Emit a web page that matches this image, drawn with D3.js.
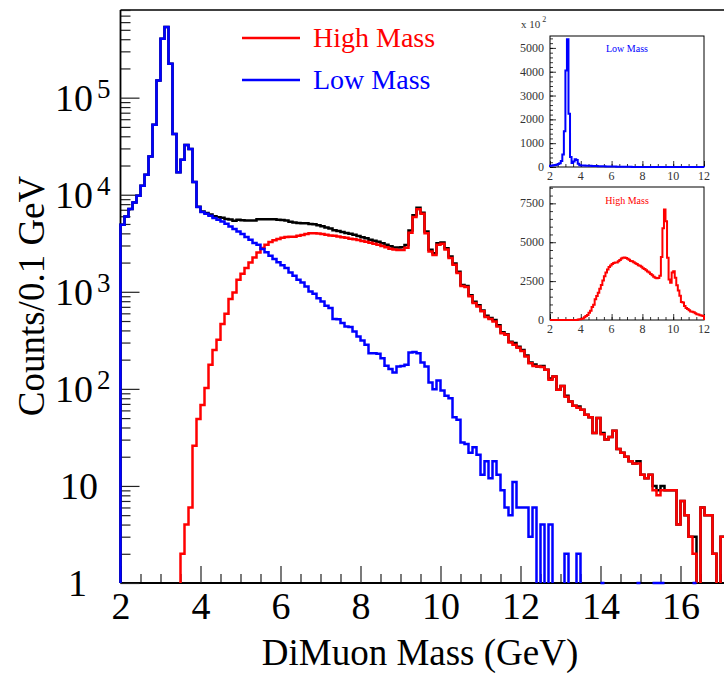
<!DOCTYPE html>
<html><head><meta charset="utf-8">
<script src="https://cdn.jsdelivr.net/npm/d3@7"></script>
<style>
body{margin:0;background:#fff}
svg{display:block}
text{font-family:"Liberation Serif","Times New Roman",serif}
</style>
</head><body>
<svg id="c" width="724" height="673"></svg>
<script>
// ---- data: counts per 0.1 GeV bin, bins start at 2.0 GeV ----
const binStart = 2.0;
const binWidth = 0.1;
const lowMass = [
  4900, 5970, 7110, 8340, 9770, 12400, 16100, 24800, 52700, 150000,
  405000, 536000, 224000, 42300, 17000, 22900, 32500, 29500, 13500, 7470,
  6630, 6370, 6080, 5760, 5530, 5310, 5020, 4710, 4425, 4185,
  3935, 3664, 3435, 3175, 3050, 2755, 2550, 2350, 2180, 2020,
  1880, 1755, 1581, 1462, 1330, 1247, 1135, 1008, 953, 860,
  794, 717, 680, 523, 520, 476, 440, 435, 390, 346,
  315, 284, 233, 233, 230, 207, 173, 160, 147, 170,
  172, 177, 237, 240, 233, 187, 170, 116, 99, 122,
  96, 85, 80, 51, 48, 28, 27, 22, 25, 21,
  13, 18, 12, 18, 13, 9, 6, 5, 11, 6,
  6, 6, 3, 6, 0, 4, 0, 4, 0, 0,
  0, 2, 0, 0, 2, 0, 0, 0, 0, 0,
  1, 0, 0, 0, 0, 0, 0, 0, 0, 1,
  0, 0, 0, 1, 1, 1, 0, 0, 0, 0,
  0, 0, 0, 1, 0, 0, 0, 0, 0, 0,
  0, 0
];
const highMass = [
  0, 0, 0, 0, 0, 0, 0, 0, 0, 0,
  0, 0, 0, 0, 0, 2, 4, 6, 26, 49,
  68, 102, 177, 252, 320, 465, 593, 841, 984, 1330,
  1535, 1755, 2005, 2258, 2543, 2820, 3052, 3250, 3400, 3500,
  3600, 3660, 3700, 3700, 3780, 3850, 3950, 4000, 4020, 3980,
  3930, 3880, 3800, 3780, 3720, 3650, 3600, 3520, 3480, 3420,
  3330, 3280, 3200, 3120, 3050, 2960, 2880, 2780, 2720, 2690,
  2700, 2850, 4050, 5900, 7100, 6350, 4000, 2600, 2400, 3050,
  3130, 2720, 2230, 1900, 1560, 1150, 1120, 900, 765, 705,
  630, 550, 525, 495, 440, 375, 360, 300, 285, 265,
  245, 215, 184, 172, 170, 168, 157, 124, 134, 98,
  107, 83, 74, 67, 64, 61, 54, 51, 35, 50,
  34, 30, 32, 37, 24, 22, 20, 18, 17, 17,
  13, 12, 13, 9, 8, 9, 9, 9, 9, 4,
  7, 5, 3, 2, 0, 6, 5, 5, 2, 0,
  3, 3
];
const totalMass = lowMass.map((v, i) => v + highMass[i]);
const xTickValues = [2, 4, 6, 8, 10, 12, 14, 16];
const yDecades = [0, 1, 2, 3, 4, 5];
const legendLabels = ["High Mass", "Low Mass"];
const insetXTicks = [2, 4, 6, 8, 10, 12];
const insetLowTicks = [0, 1000, 2000, 3000, 4000, 5000];
const insetHighTicks = [0, 2500, 5000, 7500];

const edges = d3.range(lowMass.length + 1).map(i => +(binStart + i * binWidth).toFixed(2));

const svg = d3.select("#c");
const RED = "#ff0000", BLUE = "#0000ff";

// ---- main plot ----
const x = d3.scaleLinear().domain([2, 17.2]).range([120.5, 728.5]);
const y = d3.scaleLog().domain([1, 8e5]).range([583, 10]);
const yB = y(1);

svg.append("defs").append("clipPath").attr("id", "mainclip")
  .append("rect").attr("x", 119).attr("y", 10).attr("width", 610).attr("height", 576);

svg.append("line").attr("x1", 120.5).attr("x2", 724).attr("y1", 10).attr("y2", 10)
  .attr("stroke", "#000").attr("stroke-width", 1.5);

// x axis ticks
const minorX = d3.range(2, 17.01, 0.5).filter(v => Math.abs(v % 2) > 1e-6);
const gx = svg.append("g").attr("transform", `translate(0,${yB})`);
gx.call(d3.axisBottom(x).tickValues(minorX).tickSize(-9).tickSizeOuter(0).tickFormat(""));
gx.call(g => g.select(".domain").remove());
const gx2 = svg.append("g").attr("transform", `translate(0,${yB})`);
gx2.call(d3.axisBottom(x).tickValues(xTickValues).tickSize(-17).tickSizeOuter(0).tickPadding(9).tickFormat(d3.format("d")));
gx2.select(".domain").attr("d", `M120.5,0H724`).attr("stroke-width", 1.8);
gx2.selectAll("text").attr("font-size", 38).attr("fill", "#000");
svg.selectAll(".tick line").attr("stroke", "#222").attr("stroke-width", 1.2);

// y axis ticks
const yMinor = [];
for (let n = 0; n <= 5; n++) for (let k = 2; k <= 9; k++) { const v = k * Math.pow(10, n); if (v <= 8e5) yMinor.push(v); }
const gy = svg.append("g").attr("transform", "translate(120.5,0)");
gy.call(d3.axisLeft(y).tickValues(yMinor).tickSize(-10).tickSizeOuter(0).tickFormat(""));
gy.select(".domain").remove();
const gy2 = svg.append("g").attr("transform", "translate(120.5,0)");
gy2.call(d3.axisLeft(y).tickValues(yDecades.map(n => Math.pow(10, n))).tickSize(-19).tickSizeOuter(0).tickFormat(""));
gy2.select(".domain").attr("d", `M0,${yB}V10`).attr("stroke-width", 1.8);
svg.selectAll(".tick line").attr("stroke", "#222").attr("stroke-width", 1.2);

// y tick labels
yDecades.forEach(n => {
  const yy = y(Math.pow(10, n));
  if (n === 0) {
    svg.append("text").attr("x", 87).attr("y", yy + 13).attr("text-anchor", "end")
      .attr("font-size", 38).text("1");
  } else if (n === 1) {
    svg.append("text").attr("x", 98).attr("y", yy + 13).attr("text-anchor", "end")
      .attr("font-size", 38).text("10");
  } else {
    svg.append("text").attr("x", 93).attr("y", yy + 13).attr("text-anchor", "end")
      .attr("font-size", 38).text("10");
    svg.append("text").attr("x", 97).attr("y", yy).attr("font-size", 27).text(String(n));
  }
});

// axis titles
svg.append("text").attr("x", 420).attr("y", 665).attr("text-anchor", "middle")
  .attr("font-size", 37).text("DiMuon Mass (GeV)");
svg.append("text").attr("transform", "translate(44,296) rotate(-90)").attr("text-anchor", "middle")
  .attr("font-size", 37).text("Counts/0.1 GeV");

// histogram path builder for log scale (zero bins left empty)
function logStep(vals) {
  let d = "", pen = false, prevY = yB;
  vals.forEach((v, i) => {
    const x0 = x(edges[i]), x1 = x(edges[i + 1]);
    const yi = v > 0 ? y(v) : yB;
    if (!pen) { d += `M${x0},${prevY}`; pen = true; }
    d += `L${x0},${yi}`;
    if (v > 0) d += `L${x1},${yi}`; else pen = false;
    prevY = yi;
  });
  if (pen) d += `L${x(edges[vals.length])},${yB}`;
  return d;
}
const hg = svg.append("g").attr("clip-path", "url(#mainclip)");
hg.append("path").attr("d", logStep(totalMass)).attr("fill", "none").attr("stroke", "#000").attr("stroke-width", 2.5);
hg.append("path").attr("d", logStep(highMass)).attr("fill", "none").attr("stroke", RED).attr("stroke-width", 2.5);
hg.append("path").attr("d", logStep(lowMass)).attr("fill", "none").attr("stroke", BLUE).attr("stroke-width", 2.5);

// legend
[[RED, 38, 47], [BLUE, 80, 89]].forEach(([c, ly, ty], i) => {
  svg.append("line").attr("x1", 242).attr("x2", 300).attr("y1", ly).attr("y2", ly)
    .attr("stroke", c).attr("stroke-width", 2.5);
  svg.append("text").attr("x", 313).attr("y", ty).attr("font-size", 28).attr("fill", c).text(legendLabels[i]);
});

// ---- insets ----
function inset(top, bottom, yMax, vals, scaleDiv, ticks, color, label, labelY, xLabY) {
  const ix = d3.scaleLinear().domain([2, 12]).range([550, 704]);
  const iy = d3.scaleLinear().domain([0, yMax]).range([bottom, top]);
  const g = svg.append("g");
  g.append("rect").attr("x", 550).attr("y", top).attr("width", 154).attr("height", bottom - top)
    .attr("fill", "#fff").attr("stroke", "#000").attr("stroke-width", 1);
  const minor = d3.range(2, 12.01, 0.5);
  g.append("g").attr("transform", `translate(0,${bottom})`)
    .call(d3.axisBottom(ix).tickValues(minor).tickSize(-3).tickSizeOuter(0).tickFormat(""))
    .call(s => s.select(".domain").remove());
  g.append("g").attr("transform", `translate(0,${bottom})`)
    .call(d3.axisBottom(ix).tickValues(insetXTicks).tickSize(-6).tickSizeOuter(0).tickFormat(""))
    .call(s => s.select(".domain").remove());
  insetXTicks.forEach(t => g.append("text").attr("x", ix(t)).attr("y", xLabY).attr("text-anchor", "middle")
    .attr("font-size", 12).attr("fill", "#333").text(t));
  const step = ticks[1] - ticks[0];
  const yminor = d3.range(0, yMax, step / 5);
  g.append("g").attr("transform", "translate(550,0)")
    .call(d3.axisLeft(iy).tickValues(yminor).tickSize(-3).tickSizeOuter(0).tickFormat(""))
    .call(s => s.select(".domain").remove());
  g.append("g").attr("transform", "translate(550,0)")
    .call(d3.axisLeft(iy).tickValues(ticks).tickSize(-6).tickSizeOuter(0).tickFormat(""))
    .call(s => s.select(".domain").remove());
  ticks.forEach(t => g.append("text").attr("x", 544).attr("y", iy(t) + 4).attr("text-anchor", "end")
    .attr("font-size", 12).attr("fill", "#333").text(t));
  g.selectAll(".tick line").attr("stroke", "#000").attr("stroke-width", 0.8);
  let d = `M${ix(2)},${iy(0)}`;
  vals.forEach((v, i) => {
    if (edges[i] >= 12 - 1e-9) return;
    const yy = iy(v / scaleDiv);
    d += `L${ix(edges[i])},${yy}L${ix(edges[i + 1])},${yy}`;
  });
  d += `L${ix(12)},${iy(0)}`;
  g.append("path").attr("d", d).attr("fill", "none").attr("stroke", color).attr("stroke-width", 2);
  g.append("text").attr("x", 627).attr("y", labelY).attr("text-anchor", "middle")
    .attr("font-size", 10).attr("fill", color).text(label);
}
inset(36, 167, 5500, lowMass, 100, insetLowTicks, BLUE, "Low Mass", 52, 180);
inset(187, 320, 8550, highMass, 1, insetHighTicks, RED, "High Mass", 204, 333);
const ml = svg.append("text").attr("x", 521).attr("y", 28).attr("font-size", 11).attr("fill", "#333");
ml.append("tspan").text("x 10");
ml.append("tspan").attr("dy", -6).attr("dx", 2).attr("font-size", 8).text("2");
</script>
</body></html>
